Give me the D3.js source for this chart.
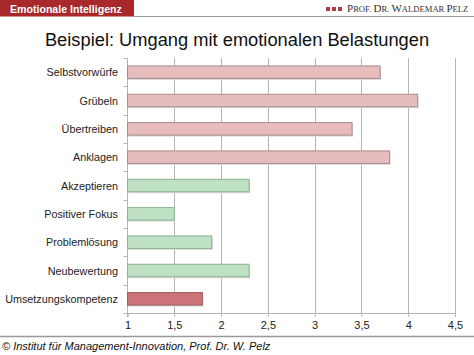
<!DOCTYPE html>
<html><head><meta charset="utf-8">
<script src="https://cdn.jsdelivr.net/npm/d3@7"></script>
<style>body{margin:0;background:#fff}svg{display:block}</style>
</head><body><svg id="c" width="474" height="355"></svg>
<script>
const categories = ["Selbstvorwürfe","Grübeln","Übertreiben","Anklagen","Akzeptieren","Positiver Fokus","Problemlösung","Neubewertung","Umsetzungskompetenz"];
const values = [3.7, 4.1, 3.4, 3.8, 2.3, 1.5, 1.9, 2.3, 1.8];
const groups = ["neg","neg","neg","neg","pos","pos","pos","pos","total"];
const tickValues = [1, 1.5, 2, 2.5, 3, 3.5, 4, 4.5];
const tickLabels = ["1","1,5","2","2,5","3","3,5","4","4,5"];

const fills = {neg:"#e6bcbd", pos:"#bfe1c3", total:"#cc7479"};
const strokes = {neg:"#a88c8e", pos:"#8cb292", total:"#9e5a5e"};

const svg = d3.select("#c");
// header
svg.append("rect").attr("x",0).attr("y",0).attr("width",134).attr("height",16.5).attr("fill","#a8282c");
svg.append("text").attr("x",10).attr("y",12.5).attr("fill","#fff").attr("font-family","Liberation Sans, Arial, sans-serif")
  .attr("font-weight","bold").attr("font-size",10.6).text("Emotionale Intelligenz");
svg.append("line").attr("x1",134).attr("x2",474).attr("y1",16.5).attr("y2",16.5).attr("stroke","#9a9a9a").attr("stroke-width",1);
[326,332,338].forEach(x=>svg.append("rect").attr("x",x).attr("y",7).attr("width",4).attr("height",4).attr("fill","#b03a3e"));
const hdr = svg.append("text").attr("x",347).attr("y",12).attr("fill","#333").attr("font-family","Liberation Serif, Times New Roman, serif");
[["P",11],["ROF. ",8.6],["D",11],["R. ",8.6],["W",11],["ALDEMAR ",8.6],["P",11],["ELZ",8.6]].forEach(([t,s])=>hdr.append("tspan").attr("font-size",s).text(t));

svg.append("text").attr("x",237).attr("y",46).attr("text-anchor","middle").attr("font-family","Liberation Sans, Arial, sans-serif")
  .attr("font-size",18.3).attr("fill","#111").text("Beispiel: Umgang mit emotionalen Belastungen");

// chart
const x = d3.scaleLinear().domain([1,4.5]).range([127.5,455]);
const y = d3.scaleBand().domain(categories).range([58,313]).paddingInner(0.56).paddingOuter(0.28);

const g = svg.append("g");
// gridlines
g.selectAll(".grid").data(tickValues.slice(1)).join("line")
  .attr("x1",d=>Math.round(x(d))+0.5).attr("x2",d=>Math.round(x(d))+0.5).attr("y1",58).attr("y2",313)
  .attr("stroke","#b5b5b5").attr("stroke-width",1);
// bottom axis
const xa = g.append("g").attr("transform","translate(0,313)")
  .call(d3.axisBottom(x).tickValues(tickValues).tickFormat((d,i)=>tickLabels[i]).tickSize(4).tickPadding(4));
xa.select(".domain").attr("stroke","#b5b5b5");
xa.selectAll(".tick line").attr("stroke","#b5b5b5");
xa.selectAll("text").attr("font-family","Liberation Sans, Arial, sans-serif").attr("font-size",11).attr("fill","#222");

// left axis
const band = (313-58)/categories.length;
g.append("line").attr("x1",127.5).attr("x2",127.5).attr("y1",58).attr("y2",317).attr("stroke","#b5b5b5");
g.selectAll(".ytick").data(d3.range(categories.length+1)).join("line")
  .attr("x1",123.5).attr("x2",127.5).attr("y1",i=>Math.round(58+i*band)+0.5).attr("y2",i=>Math.round(58+i*band)+0.5)
  .attr("stroke","#b5b5b5");
g.selectAll(".ylab").data(categories).join("text")
  .attr("x",118).attr("y",d=>y(d)+y.bandwidth()/2+4).attr("text-anchor","end")
  .attr("font-family","Liberation Sans, Arial, sans-serif").attr("font-size",10.8).attr("fill","#222").text(d=>d);

// bars with shadow
g.selectAll(".shadow").data(categories).join("rect")
  .attr("x",x(1)+1).attr("y",d=>y(d)+1.5).attr("width",(d,i)=>x(values[i])-x(1)).attr("height",y.bandwidth())
  .attr("fill","#d8d8d8");
g.selectAll(".bar").data(categories).join("rect")
  .attr("x",x(1)).attr("y",d=>y(d)).attr("width",(d,i)=>x(values[i])-x(1)).attr("height",y.bandwidth())
  .attr("fill",(d,i)=>fills[groups[i]]).attr("stroke",(d,i)=>strokes[groups[i]]).attr("stroke-width",1);

// footer
svg.append("line").attr("x1",0).attr("x2",474).attr("y1",336.5).attr("y2",336.5).attr("stroke","#999").attr("stroke-width",1.5);
svg.append("text").attr("x",2).attr("y",350).attr("font-family","Liberation Sans, Arial, sans-serif").attr("font-style","italic")
  .attr("font-size",11).attr("fill","#111").text("© Institut für Management-Innovation, Prof. Dr. W. Pelz");
</script></body></html>
